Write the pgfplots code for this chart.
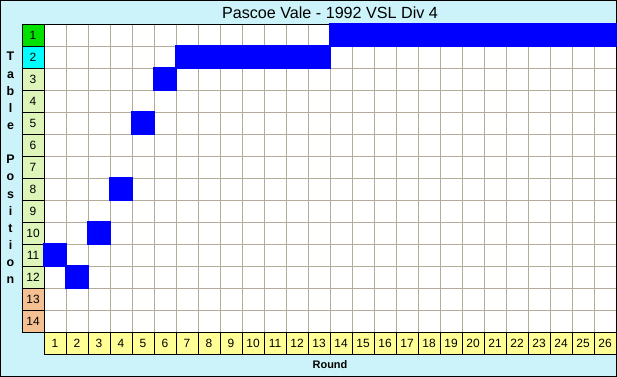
\documentclass[border=0pt]{standalone}
\usepackage{pgfplots}
\pgfplotsset{compat=1.18}
\usepackage{pgfplotstable}
\usepackage{fontspec}
\setmainfont{Liberation Sans}
\definecolor{bgc}{RGB}{204,243,250}
\definecolor{gridc}{RGB}{180,172,155}
\definecolor{c1}{RGB}{0,225,0}
\definecolor{c2}{RGB}{0,255,255}
\definecolor{cmid}{RGB}{222,245,185}
\definecolor{clow}{RGB}{245,192,145}
\definecolor{cround}{RGB}{255,255,150}
\newcommand{\cellbox}[2]{{\setlength\fboxsep{0pt}\setlength\fboxrule{0.8bp}\fcolorbox{black}{#1}{\parbox[c][21.2bp][c]{21.2bp}{\centering #2}}}}
\pgfplotstableread{
round pos
1 11
2 12
3 10
4 8
5 5
6 3
7 2
8 2
9 2
10 2
11 2
12 2
13 2
14 1
15 1
16 1
17 1
18 1
19 1
20 1
21 1
22 1
23 1
24 1
25 1
26 1
}\posdata
\begin{document}
\begin{tikzpicture}
\path[fill=bgc, draw=black, line width=1bp] (0.5bp,-0.5bp) rectangle (616.5bp,-376.5bp);
\node[font=\fontsize{16.2}{19}\selectfont] at (330bp,-12.5bp) {Pascoe Vale - 1992 VSL Div 4};
\node[font=\bfseries\fontsize{11}{13}\selectfont] at (330bp,-365bp) {Round};
\node[font=\bfseries\fontsize{12.5}{17.2}\selectfont, align=center, inner sep=0] at (10.5bp,-168bp) {T\\a\\b\\l\\e\\[17.2bp]P\\o\\s\\i\\t\\i\\o\\n};
\begin{axis}[at={(330bp,-178bp)}, anchor=center, scale only axis,
  width=572bp, height=308bp,
  xmin=0, xmax=26, ymin=0, ymax=14, y dir=reverse, clip=false,
  axis background/.style={fill=white},
  axis line style={black, line width=0.8bp},
  xtick={0.5,1.5,...,25.5}, xticklabels={1,2,3,4,5,6,7,8,9,10,11,12,13,14,15,16,17,18,19,20,21,22,23,24,25,26},
  ytick={0.5,1.5,...,13.5},
  yticklabels={\cellbox{c1}{1},\cellbox{c2}{2},\cellbox{cmid}{3},\cellbox{cmid}{4},\cellbox{cmid}{5},\cellbox{cmid}{6},\cellbox{cmid}{7},\cellbox{cmid}{8},\cellbox{cmid}{9},\cellbox{cmid}{10},\cellbox{cmid}{11},\cellbox{cmid}{12},\cellbox{clow}{13},\cellbox{clow}{14}},
  major tick length=0pt, minor tick length=0pt,
  minor xtick={1,...,25}, minor ytick={1,...,13},
  xminorgrids, yminorgrids,
  minor grid style={draw=gridc, line width=0.9bp},
  xticklabel style={anchor=center, yshift=-11bp, inner sep=0pt, fill=cround, draw=black, line width=0.8bp, minimum width=22bp, minimum height=22bp, font=\fontsize{12}{14}\selectfont},
  yticklabel style={anchor=center, xshift=-11bp, inner sep=0pt, font=\fontsize{12}{14}\selectfont},
]
\addplot[blue, only marks, mark=square*, mark size=11.1bp, mark options={fill=blue, draw=blue, line width=0pt}] table[x expr=\thisrow{round}-0.5, y expr=\thisrow{pos}-0.5] {\posdata};
\end{axis}
\end{tikzpicture}
\end{document}
